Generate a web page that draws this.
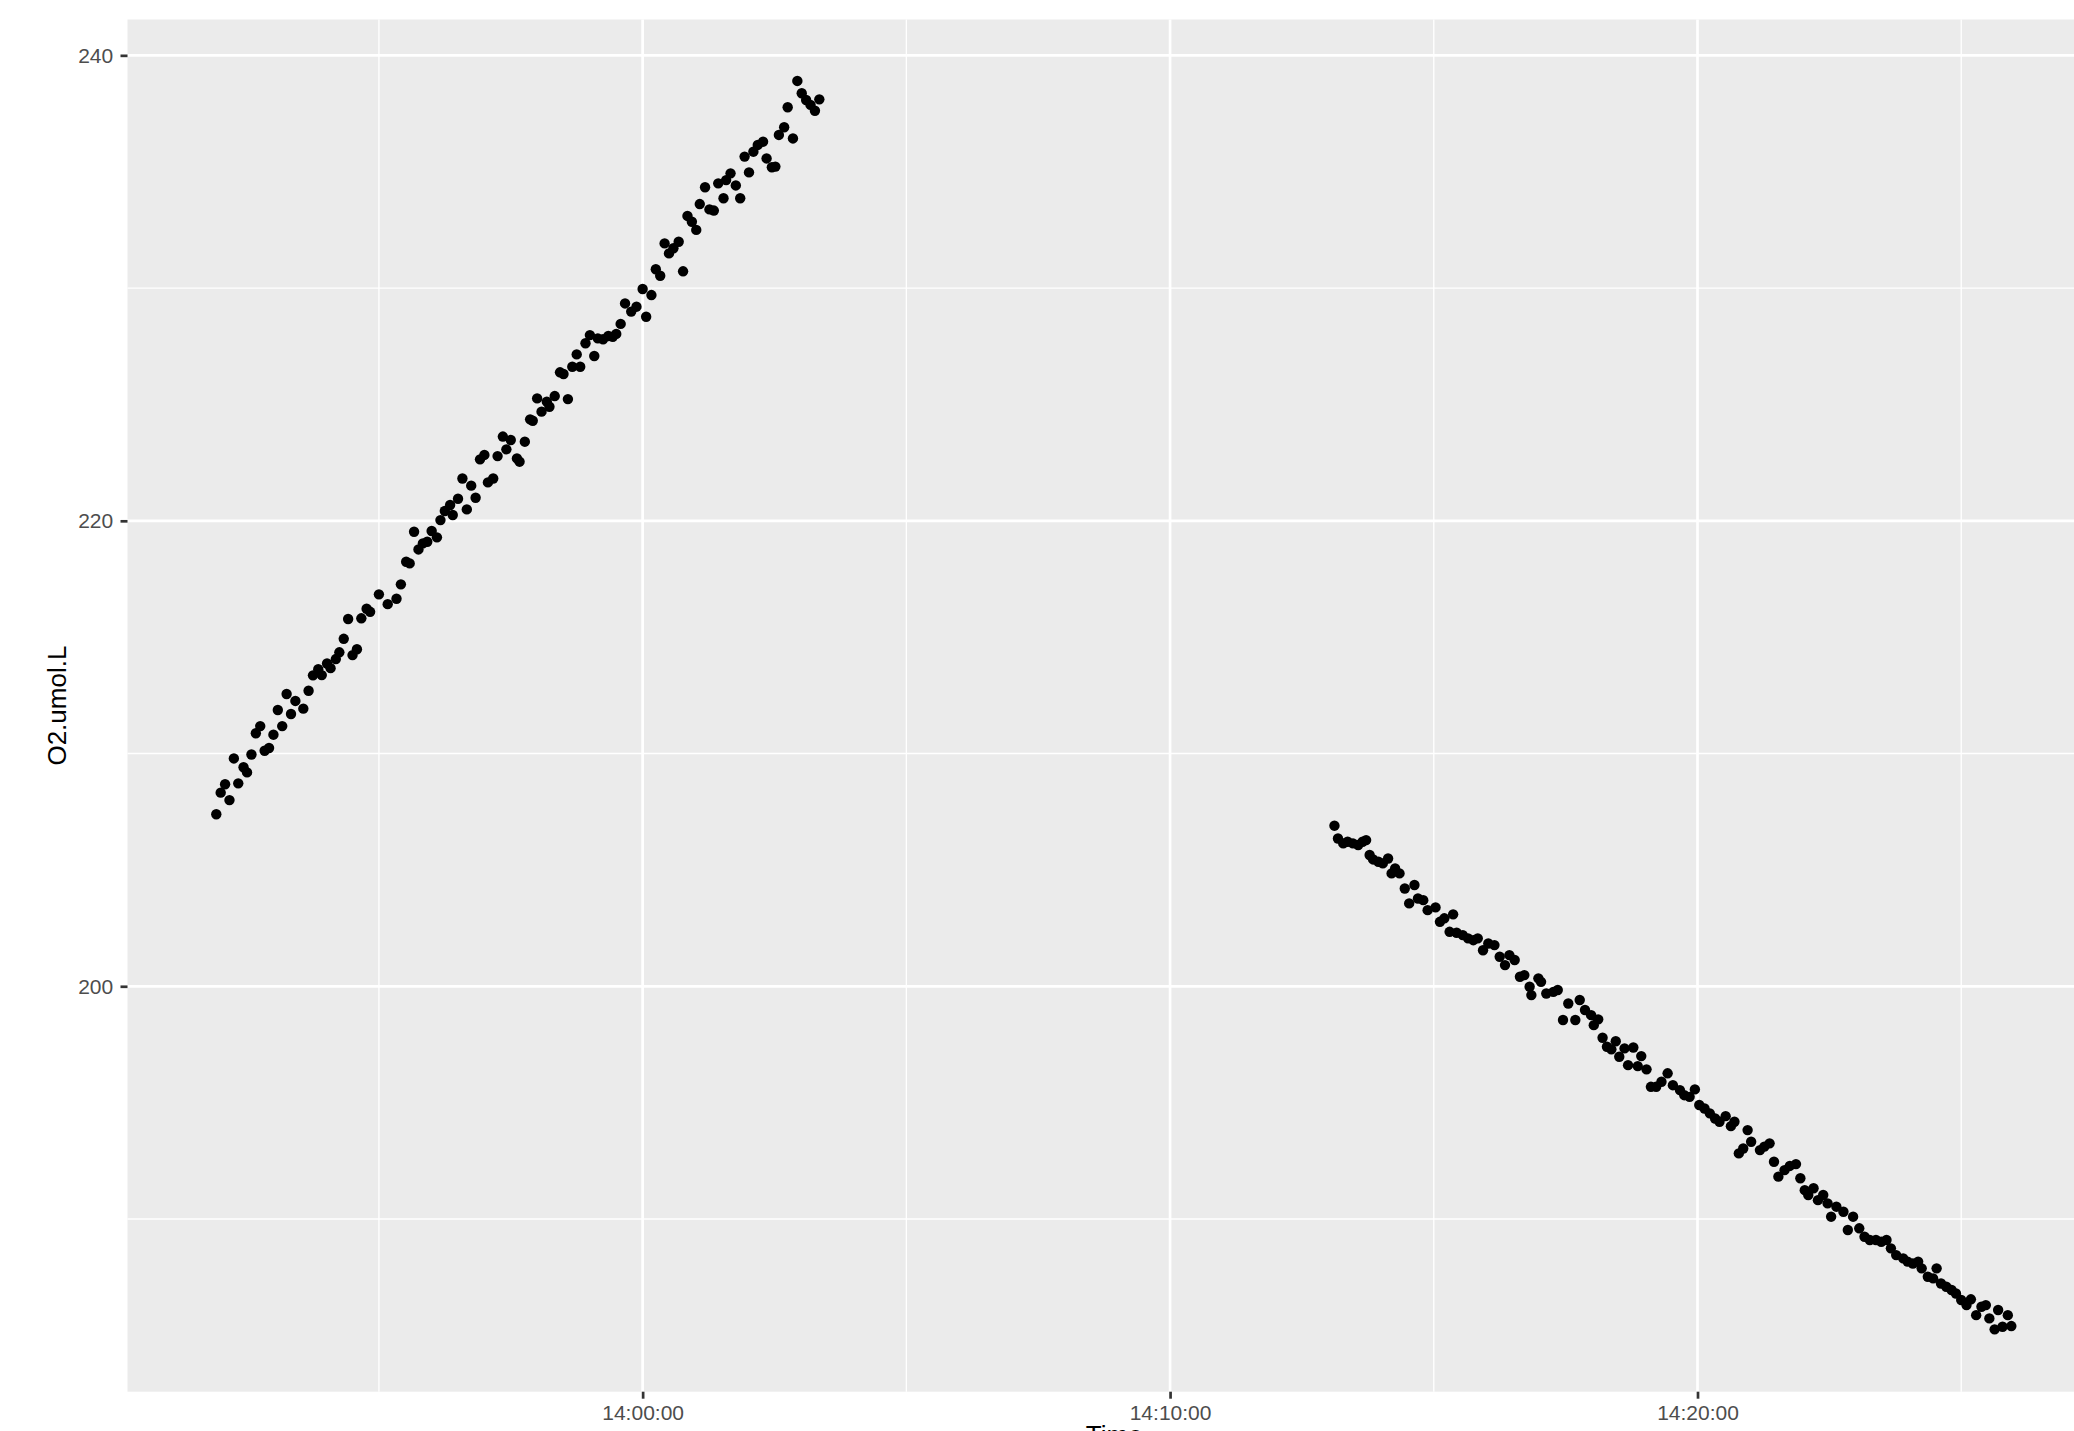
<!DOCTYPE html>
<html>
<head>
<meta charset="utf-8">
<script src="https://cdn.jsdelivr.net/npm/d3@7"></script>
<style>
  body { margin: 0; background: #fff; }
  text { font-family: "Liberation Sans", Arial, sans-serif; }
</style>
</head>
<body>
<div id="chart-container"></div>
<script>
// observation times and O2 readings (umol/L)
const times = [
  "13:51:55","13:52:00","13:52:05","13:52:10","13:52:15","13:52:20","13:52:26","13:52:30","13:52:35","13:52:40",
  "13:52:45","13:52:50","13:52:55","13:53:00","13:53:05","13:53:10","13:53:15","13:53:20","13:53:25","13:53:34",
  "13:53:40","13:53:45","13:53:51","13:53:55","13:54:01","13:54:05","13:54:11","13:54:15","13:54:20","13:54:25",
  "13:54:30","13:54:35","13:54:40","13:54:46","13:54:50","13:55:00","13:55:10","13:55:20","13:55:25","13:55:31",
  "13:55:35","13:55:40","13:55:45","13:55:50","13:55:55","13:56:00","13:56:06","13:56:10","13:56:15","13:56:21",
  "13:56:24","13:56:30","13:56:35","13:56:40","13:56:45","13:56:50","13:56:55","13:57:00","13:57:04","13:57:10",
  "13:57:15","13:57:21","13:57:25","13:57:30","13:57:37","13:57:40","13:57:46","13:57:52","13:57:55","13:58:00",
  "13:58:05","13:58:11","13:58:14","13:58:20","13:58:26","13:58:30","13:58:35","13:58:40","13:58:45","13:58:49",
  "13:58:55","13:59:00","13:59:05","13:59:09","13:59:15","13:59:21","13:59:26","13:59:30","13:59:35","13:59:40",
  "13:59:47","13:59:53","14:00:00","14:00:04","14:00:10","14:00:15","14:00:20","14:00:25","14:00:30","14:00:35",
  "14:00:41","14:00:46","14:00:51","14:00:56","14:01:01","14:01:05","14:01:11","14:01:16","14:01:21","14:01:26",
  "14:01:32","14:01:35","14:01:40","14:01:46","14:01:51","14:01:56","14:02:01","14:02:06","14:02:11","14:02:17",
  "14:02:21","14:02:27","14:02:31","14:02:35","14:02:41","14:02:45","14:02:51","14:02:56","14:03:01","14:03:06",
  "14:03:11","14:03:16","14:03:21",
  "14:13:07","14:13:11","14:13:17","14:13:22","14:13:28","14:13:34","14:13:39","14:13:43","14:13:47","14:13:51",
  "14:13:57","14:14:02","14:14:08","14:14:12","14:14:16","14:14:21","14:14:27","14:14:32","14:14:38","14:14:42",
  "14:14:48","14:14:53","14:15:02","14:15:07","14:15:12","14:15:18","14:15:22","14:15:26","14:15:33","14:15:39",
  "14:15:45","14:15:50","14:15:56","14:16:02","14:16:09","14:16:15","14:16:21","14:16:26","14:16:32","14:16:38",
  "14:16:43","14:16:49","14:16:51","14:16:59","14:17:02","14:17:08","14:17:16","14:17:21","14:17:27","14:17:33",
  "14:17:41","14:17:46","14:17:52","14:17:59","14:18:02","14:18:07","14:18:12","14:18:17","14:18:22","14:18:27",
  "14:18:31","14:18:37","14:18:41","14:18:47","14:18:52","14:18:56","14:19:02","14:19:07","14:19:13","14:19:19",
  "14:19:26","14:19:32","14:19:40","14:19:45","14:19:51","14:19:57","14:20:02","14:20:08","14:20:14","14:20:20",
  "14:20:25","14:20:32","14:20:38","14:20:42","14:20:47","14:20:52","14:20:57","14:21:01","14:21:11","14:21:16",
  "14:21:22","14:21:27","14:21:32","14:21:39","14:21:45","14:21:52","14:21:57","14:22:02","14:22:06","14:22:12",
  "14:22:17","14:22:23","14:22:28","14:22:32","14:22:38","14:22:46","14:22:51","14:22:57","14:23:04","14:23:10",
  "14:23:16","14:23:23","14:23:29","14:23:35","14:23:40","14:23:46","14:23:54","14:23:59","14:24:05","14:24:11",
  "14:24:15","14:24:22","14:24:28","14:24:32","14:24:37","14:24:43","14:24:49","14:24:54","14:25:00","14:25:06",
  "14:25:11","14:25:17","14:25:23","14:25:28","14:25:32","14:25:38","14:25:42","14:25:47","14:25:53","14:25:57"
];

const o2 = [
  207.39,208.32,208.68,208.00,209.79,208.72,209.41,209.19,209.96,210.87,
  211.18,210.12,210.24,210.81,211.87,211.18,212.56,211.70,212.26,211.93,
  212.70,213.36,213.62,213.37,213.87,213.67,214.06,214.35,214.93,215.78,
  214.23,214.48,215.81,216.22,216.09,216.84,216.42,216.65,217.27,218.24,
  218.17,219.53,218.77,219.03,219.10,219.56,219.29,220.03,220.42,220.68,
  220.25,220.95,221.82,220.49,221.51,220.99,222.64,222.83,221.65,221.82,
  222.78,223.62,223.07,223.47,222.68,222.54,223.40,224.36,224.30,225.26,
  224.69,225.12,224.90,225.36,226.38,226.31,225.23,226.62,227.15,226.62,
  227.63,227.98,227.08,227.84,227.80,227.94,227.91,228.03,228.46,229.34,
  228.99,229.20,229.96,228.77,229.70,230.81,230.53,231.92,231.49,231.71,
  231.99,230.72,233.10,232.85,232.50,233.61,234.33,233.38,233.33,234.50,
  233.86,234.64,234.93,234.41,233.86,235.65,234.97,235.86,236.15,236.29,
  235.57,235.19,235.22,236.58,236.91,237.77,236.43,238.90,238.37,238.08,
  237.87,237.62,238.11,
  206.90,206.35,206.14,206.21,206.14,206.07,206.21,206.28,205.64,205.45,
  205.35,205.28,205.49,204.85,205.06,204.85,204.20,203.56,204.35,203.77,
  203.70,203.27,203.39,202.77,202.92,202.34,203.09,202.30,202.20,202.06,
  201.98,202.06,201.55,201.84,201.77,201.27,200.91,201.34,201.13,200.41,
  200.48,199.98,199.62,200.34,200.19,199.69,199.76,199.84,198.55,199.26,
  198.55,199.41,198.98,198.76,198.33,198.58,197.79,197.40,197.29,197.64,
  196.97,197.33,196.61,197.37,196.57,197.00,196.43,195.68,195.68,195.90,
  196.26,195.75,195.54,195.32,195.25,195.57,194.90,194.75,194.54,194.32,
  194.18,194.42,193.99,194.18,192.82,193.03,193.82,193.32,192.96,193.11,
  193.25,192.46,191.82,192.10,192.28,192.36,191.75,191.24,191.03,191.32,
  190.81,191.03,190.67,190.10,190.53,190.31,189.53,190.10,189.60,189.24,
  189.10,189.10,189.02,189.10,188.74,188.45,188.31,188.17,188.09,188.17,
  187.88,187.52,187.45,187.88,187.23,187.09,186.95,186.80,186.52,186.30,
  186.55,185.87,186.23,186.30,185.73,185.26,186.09,185.37,185.87,185.40
];

// axis breaks
const xTicks = ["14:00:00", "14:10:00", "14:20:00"];
const yTicks = [200, 220, 240];

// setting dimensions (panel runs slightly past the right edge of the picture)
const width = 2074;
const height = 1431;
const panel = { left: 127.5, right: 2101, top: 19.5, bottom: 1391.7 };

const parseTime = d3.timeParse("%H:%M:%S");
const data = times.map((t, i) => ({ time: parseTime(t), value: o2[i] }));

// scales (ggplot style 5% expansion around the data range)
const xScale = d3
  .scaleTime()
  .domain([parseTime("13:50:14"), parseTime("14:27:39")])
  .range([panel.left, panel.right]);

const yScale = d3
  .scaleLinear()
  .domain([182.58, 241.54])
  .range([panel.bottom, panel.top]);

const svg = d3
  .select("#chart-container")
  .append("svg")
  .attr("width", width)
  .attr("height", height)
  .style("display", "block");

svg.append("rect").attr("width", width).attr("height", height).attr("fill", "#fff");

// grey panel
svg
  .append("rect")
  .attr("x", panel.left)
  .attr("y", panel.top)
  .attr("width", panel.right - panel.left)
  .attr("height", panel.bottom - panel.top)
  .attr("fill", "#EBEBEB");

// minor grid lines sit halfway between the major breaks
const xMajor = xTicks.map(parseTime);
const xMinor = [];
xMajor.forEach((d, i) => {
  xMinor.push(d3.timeMinute.offset(d, -5));
  if (i === xMajor.length - 1) xMinor.push(d3.timeMinute.offset(d, 5));
});
const yMinor = [];
yTicks.forEach((d, i) => {
  if (i > 0) yMinor.push((d + yTicks[i - 1]) / 2);
});
yMinor.unshift(yTicks[0] - 10);

const grid = svg.append("g").attr("class", "grid");

grid
  .selectAll(".x-minor")
  .data(xMinor.filter((d) => d >= xScale.domain()[0] && d <= xScale.domain()[1]))
  .join("line")
  .attr("x1", (d) => xScale(d))
  .attr("x2", (d) => xScale(d))
  .attr("y1", panel.top)
  .attr("y2", panel.bottom)
  .attr("stroke", "#fff")
  .attr("stroke-width", 1.35);

grid
  .selectAll(".y-minor")
  .data(yMinor)
  .join("line")
  .attr("x1", panel.left)
  .attr("x2", panel.right)
  .attr("y1", (d) => yScale(d))
  .attr("y2", (d) => yScale(d))
  .attr("stroke", "#fff")
  .attr("stroke-width", 1.35);

grid
  .selectAll(".x-major")
  .data(xMajor)
  .join("line")
  .attr("x1", (d) => xScale(d))
  .attr("x2", (d) => xScale(d))
  .attr("y1", panel.top)
  .attr("y2", panel.bottom)
  .attr("stroke", "#fff")
  .attr("stroke-width", 2.7);

grid
  .selectAll(".y-major")
  .data(yTicks)
  .join("line")
  .attr("x1", panel.left)
  .attr("x2", panel.right)
  .attr("y1", (d) => yScale(d))
  .attr("y2", (d) => yScale(d))
  .attr("stroke", "#fff")
  .attr("stroke-width", 2.7);

// points
svg
  .append("g")
  .selectAll("circle")
  .data(data)
  .join("circle")
  .attr("cx", (d) => xScale(d.time))
  .attr("cy", (d) => yScale(d.value))
  .attr("r", 5.2)
  .attr("fill", "#000");

// axes
const xAxis = d3
  .axisBottom(xScale)
  .tickValues(xMajor)
  .tickFormat(d3.timeFormat("%H:%M:%S"))
  .tickSize(7)
  .tickPadding(6.4);

const yAxis = d3
  .axisLeft(yScale)
  .tickValues(yTicks)
  .tickSize(7)
  .tickPadding(7.3);

const gx = svg
  .append("g")
  .attr("class", "x-axis")
  .attr("transform", `translate(0, ${panel.bottom})`)
  .call(xAxis);

const gy = svg
  .append("g")
  .attr("class", "y-axis")
  .attr("transform", `translate(${panel.left}, 0)`)
  .call(yAxis);

[gx, gy].forEach((g) => {
  g.select(".domain").remove();
  g.selectAll(".tick line").attr("stroke", "#333333").attr("stroke-width", 2.7);
  g.selectAll(".tick text")
    .attr("fill", "#4D4D4D")
    .style("font-size", "21px")
    .style("font-family", '"Liberation Sans", Arial, sans-serif');
});

// axis titles
svg
  .append("text")
  .attr("transform", `translate(66, ${(panel.top + panel.bottom) / 2}) rotate(-90)`)
  .attr("text-anchor", "middle")
  .style("font-size", "26px")
  .attr("fill", "#000")
  .text("O2.umol.L");

svg
  .append("text")
  .attr("x", (panel.left + panel.right) / 2)
  .attr("y", 1444)
  .attr("text-anchor", "middle")
  .style("font-size", "26px")
  .attr("fill", "#000")
  .text("Time");
</script>
</body>
</html>
